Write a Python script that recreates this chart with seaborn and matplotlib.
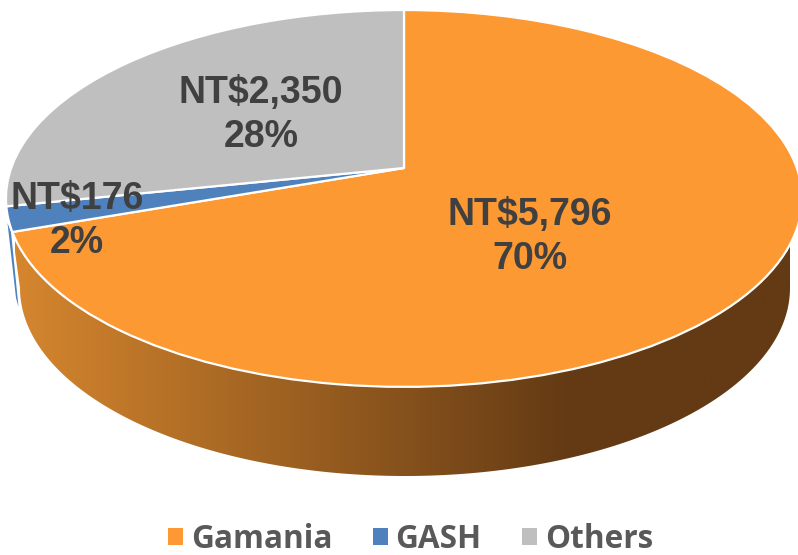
import numpy as np
import matplotlib
matplotlib.use("Agg")
import matplotlib.pyplot as plt
import matplotlib.transforms as mtransforms
from matplotlib.colors import LinearSegmentedColormap
from matplotlib.patches import Patch, Polygon
import seaborn as sns

categories = ["Gamania", "GASH", "Others"]
values = [5796, 176, 2350]
colors = ["#FD9933", "#4F81BD", "#BFBFBF"]

W, H = 798, 555
APEX_X, APEX_Y, SX, SY, K = 404.0, 168.0, 392.8, 183.5, 0.1616
LABEL_POS = [(530, 237), (77, 221), (261, 115)]


class Tilt(mtransforms.Transform):
    """Perspective view of the unit pie circle, output in figure pixels."""
    input_dims = output_dims = 2
    is_separable = False
    has_inverse = False

    def transform_non_affine(self, values):
        v = np.asarray(values, dtype=float)
        d = 1 + K * v[:, 1]
        return np.column_stack([APEX_X + SX * v[:, 0] / d, APEX_Y - SY * v[:, 1] / d])


sns.set_theme(style="white")
fig = plt.figure(figsize=(W / 100, H / 100), dpi=100)
ax = fig.add_axes([0, 0, 1, 1])
palette = sns.color_palette(colors)

tilt = Tilt()
shares = np.array(values) / sum(values)

# rim of the top face, from the right extreme clockwise to the end of the first slice
end_angle = np.pi / 2 - 2 * np.pi * shares[0]
start_angle = -np.arcsin(K)
t = np.linspace(start_angle, end_angle, 200)
rim = tilt.transform_non_affine(np.column_stack([np.cos(t), np.sin(t)]))

# lower edge of the side wall
FX, FY, RX, RY = 405.0, 288.0, 385.0, 188.0
b = np.linspace(np.pi, 0, 200)
floor = np.column_stack([FX + RX * np.cos(b), FY + RY * np.sin(b)])
wall_path = np.vstack([rim, floor])

wall_cmap = LinearSegmentedColormap.from_list(
    "wall", [(0, "#D5862E"), (0.72, "#633A14"), (1, "#633A14")])
grad = ax.imshow(np.linspace(0, 1, 512)[None, :], cmap=wall_cmap, aspect="auto",
                 extent=(15, 790, H, 0), zorder=1)
clip = Polygon(wall_path, closed=True, transform=ax.transData, fc="none", ec="none")
ax.add_patch(clip)
grad.set_clip_path(clip)

# thin sliver of the GASH slice's wall
sliver = Polygon([(7.5, 223), (11, 232), (18.5, 307), (16, 298)], closed=True,
                 fc=palette[1], ec="none", zorder=1)
ax.add_patch(sliver)

wedges, _ = ax.pie(values, colors=palette, startangle=90, counterclock=False,
                   wedgeprops=dict(edgecolor="white", linewidth=1.6, joinstyle="round"))
for w in wedges:
    w.set_transform(tilt + ax.transData)
    w.set_zorder(2)

ax.set_aspect("auto")
ax.set_xlim(0, W)
ax.set_ylim(H, 0)
ax.axis("off")

for v, s, (x, y) in zip(values, shares, LABEL_POS):
    ax.text(x, y, f"NT${v:,}\n{s * 100:.0f}%", ha="center", va="center", zorder=3,
            fontsize=27, linespacing=1.3, fontweight="bold", family="Liberation Sans",
            color="#404040")

handles = [Patch(facecolor=c, edgecolor="none") for c in palette]
leg = ax.legend(handles, categories, loc="center", bbox_to_anchor=(410.5 / W, 1 - 539 / H),
                ncol=3, frameon=False, handlelength=0.48, handleheight=0.48,
                handletextpad=0.25, columnspacing=1.28, borderaxespad=0, borderpad=0,
                labelcolor="#595959",
                prop=dict(family="Open Sans", weight="bold", size=22.7))

fig.savefig("out.png", dpi=100)
